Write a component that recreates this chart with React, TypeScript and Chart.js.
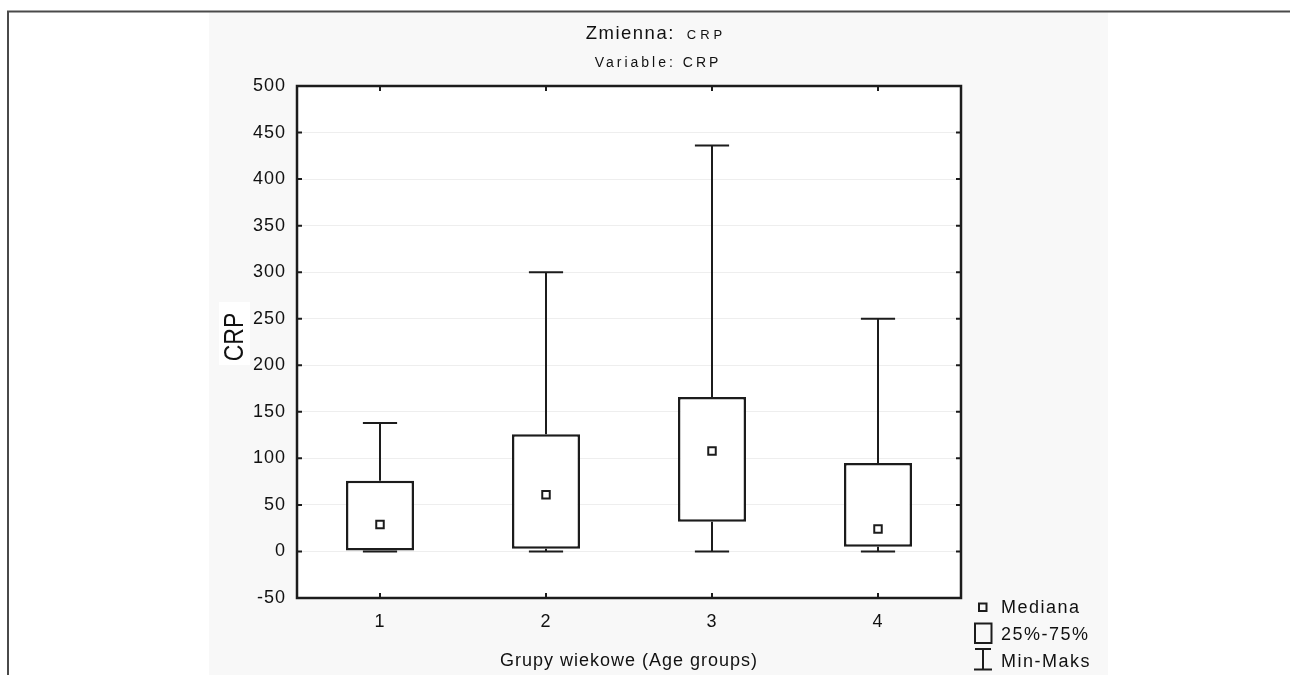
import React, { useEffect, useRef } from 'react';
import { Chart, registerables } from 'chart.js';

Chart.register(...registerables);

// ---- data ----
const categories = ['1', '2', '3', '4'];
const minValues = [0, 0, 0, 0];
const q1Values = [1, 3, 32, 5];
const medianValues = [29, 61, 108, 24];
const q3Values = [76, 126, 166, 95];
const maxValues = [138, 300, 436, 250];
const yMin = -50;
const yMax = 500;
const yStep = 50;

// ---- texts ----
const titleMain = 'Zmienna:';
const titleVar = 'CRP';
const subtitle = 'Variable: CRP';
const xTitle = 'Grupy wiekowe (Age groups)';
const yTitle = 'CRP';
const legendLabels = ['Mediana', '25%-75%', 'Min-Maks'];

const FONT = '"Liberation Sans", Arial, "DejaVu Sans", sans-serif';
const INK = '#1c1c1c';

const decor = {
  id: 'decor',
  beforeDraw(chart: any) {
    const { ctx, chartArea: a, width, height } = chart;
    ctx.save();
    ctx.fillStyle = '#ffffff';
    ctx.fillRect(0, 0, width, height);
    // grey panel
    ctx.fillStyle = '#f8f8f8';
    ctx.fillRect(209, 12, 899, height - 12);
    // plot area
    ctx.fillStyle = '#ffffff';
    ctx.fillRect(a.left, a.top, a.right - a.left, a.bottom - a.top);
    // outer frame
    ctx.strokeStyle = '#4a4a4a';
    ctx.lineWidth = 2;
    ctx.beginPath();
    ctx.moveTo(8, height);
    ctx.lineTo(8, 11.5);
    ctx.lineTo(width, 11.5);
    ctx.stroke();
    // y title
    ctx.fillStyle = '#ffffff';
    ctx.fillRect(a.left - 78, 302, 31, 63);
    ctx.translate(a.left - 54, 337);
    ctx.rotate(-Math.PI / 2);
    ctx.scale(0.82, 1);
    ctx.fillStyle = '#111';
    ctx.font = `28px ${FONT}`;
    ctx.textAlign = 'center';
    ctx.textBaseline = 'alphabetic';
    ctx.fillText(yTitle, 0, 0);
    ctx.restore();
    (ctx as any).letterSpacing = '1px';
  },
  beforeDatasetsDraw(chart: any) {
    const { ctx } = chart;
    const x = chart.scales.x;
    const y = chart.scales.y;
    const capHalf = ((x.right - x.left) / categories.length) * 0.103;
    ctx.save();
    ctx.strokeStyle = INK;
    ctx.lineWidth = 2;
    categories.forEach((_, i) => {
      const cx = x.getPixelForValue(i);
      const yMinP = y.getPixelForValue(minValues[i]);
      const yQ1 = y.getPixelForValue(q1Values[i]);
      const yQ3 = y.getPixelForValue(q3Values[i]);
      const yMaxP = y.getPixelForValue(maxValues[i]);
      ctx.beginPath();
      ctx.moveTo(cx, yMinP);
      ctx.lineTo(cx, yQ1);
      ctx.moveTo(cx, yQ3);
      ctx.lineTo(cx, yMaxP);
      ctx.moveTo(cx - capHalf, yMinP);
      ctx.lineTo(cx + capHalf, yMinP);
      ctx.moveTo(cx - capHalf, yMaxP);
      ctx.lineTo(cx + capHalf, yMaxP);
      ctx.stroke();
    });
    ctx.restore();
  },
  afterDraw(chart: any) {
    const { ctx, chartArea: a } = chart;
    const x = chart.scales.x;
    const y = chart.scales.y;
    ctx.save();
    // frame
    ctx.strokeStyle = INK;
    ctx.lineWidth = 2.5;
    ctx.strokeRect(a.left, a.top, a.right - a.left, a.bottom - a.top);
    // inward ticks
    ctx.lineWidth = 2;
    ctx.beginPath();
    y.ticks.forEach((t: any) => {
      const py = y.getPixelForValue(t.value);
      ctx.moveTo(a.left, py);
      ctx.lineTo(a.left + 5, py);
      ctx.moveTo(a.right, py);
      ctx.lineTo(a.right - 5, py);
    });
    categories.forEach((_, i) => {
      const px = x.getPixelForValue(i);
      ctx.moveTo(px, a.bottom);
      ctx.lineTo(px, a.bottom - 5);
      ctx.moveTo(px, a.top);
      ctx.lineTo(px, a.top + 5);
    });
    ctx.stroke();

    ctx.fillStyle = '#111';
    ctx.textBaseline = 'alphabetic';
    const panelCx = 656;
    // title line 1
    ctx.textAlign = 'left';
    ctx.font = `18.5px ${FONT}`;
    (ctx as any).letterSpacing = '1.5px';
    const w1 = ctx.measureText(titleMain).width;
    ctx.font = `13px ${FONT}`;
    (ctx as any).letterSpacing = '4px';
    const w2 = ctx.measureText(titleVar).width;
    const gap = 12;
    const start = panelCx - (w1 + gap + w2) / 2;
    ctx.font = `18.5px ${FONT}`;
    (ctx as any).letterSpacing = '1.5px';
    ctx.fillText(titleMain, start, 39);
    ctx.font = `13px ${FONT}`;
    (ctx as any).letterSpacing = '4px';
    ctx.fillText(titleVar, start + w1 + gap, 39);
    // subtitle
    ctx.font = `14px ${FONT}`;
    (ctx as any).letterSpacing = '3px';
    ctx.textAlign = 'center';
    ctx.fillText(subtitle, panelCx + 2, 67);
    // x title
    ctx.font = `18px ${FONT}`;
    (ctx as any).letterSpacing = '1px';
    ctx.fillText(xTitle, (a.left + a.right) / 2, 666);

    // legend
    const lx = a.right + 13; // icon left
    ctx.textAlign = 'left';
    ctx.font = `18px ${FONT}`;
    (ctx as any).letterSpacing = '1.5px';
    const tx = a.right + 40;
    ctx.fillText(legendLabels[0], tx, 613);
    ctx.fillText(legendLabels[1], tx, 640);
    ctx.fillText(legendLabels[2], tx, 667);
    ctx.strokeStyle = INK;
    ctx.lineWidth = 2;
    // median icon
    ctx.strokeRect(lx + 5, 603.5, 7.5, 7.5);
    // box icon
    ctx.strokeRect(lx + 1, 623.5, 16.5, 19.5);
    // whisker icon
    ctx.beginPath();
    ctx.moveTo(lx + 9, 649);
    ctx.lineTo(lx + 9, 669);
    ctx.moveTo(lx + 1, 649);
    ctx.lineTo(lx + 17, 649);
    ctx.moveTo(lx, 669.5);
    ctx.lineTo(lx + 18, 669.5);
    ctx.stroke();
    ctx.restore();
  },
};

export default function App() {
  const canvasRef = useRef<HTMLCanvasElement | null>(null);

  useEffect(() => {
    if (!canvasRef.current) return;
    const chart = new Chart(canvasRef.current, {
      type: 'bar',
      data: {
        labels: categories,
        datasets: [
          {
            type: 'line',
            label: 'Mediana',
            data: medianValues,
            showLine: false,
            pointStyle: 'rect',
            pointRadius: 5.3,
            pointHoverRadius: 5.3,
            pointBorderWidth: 2,
            pointBackgroundColor: '#ffffff',
            pointBorderColor: INK,
            order: 0,
          } as any,
          {
            type: 'bar',
            label: '25%-75%',
            data: q1Values.map((v, i) => [v, q3Values[i]]),
            backgroundColor: '#ffffff',
            borderColor: INK,
            borderWidth: 2.5,
            borderSkipped: false,
            barPercentage: 0.41,
            categoryPercentage: 1,
            order: 1,
          } as any,
        ],
      },
      options: {
        responsive: false,
        animation: false,
        events: [],
        layout: { padding: { left: 210, right: 329, top: 86, bottom: 0 } },
        plugins: {
          legend: { display: false },
          title: { display: false },
          tooltip: { enabled: false },
        },
        scales: {
          x: {
            type: 'category',
            offset: true,
            grid: { display: false, drawTicks: false },
            border: { display: false },
            ticks: {
              color: '#111',
              padding: 13,
              font: { family: FONT, size: 18 },
              maxRotation: 0,
            },
            afterFit: (s: any) => {
              s.height = 77;
            },
          },
          y: {
            min: yMin,
            max: yMax,
            grid: { color: '#eeeeee', lineWidth: 1, drawTicks: false },
            border: { display: false },
            ticks: {
              stepSize: yStep,
              color: '#111',
              padding: 11,
              font: { family: FONT, size: 18 },
            },
            afterFit: (s: any) => {
              s.width = 87;
            },
          },
        },
      },
      plugins: [decor],
    });
    return () => chart.destroy();
  }, []);

  return (
    <div style={{ position: 'absolute', left: 0, top: 0, width: 1290, height: 675, background: '#fff' }}>
      <canvas ref={canvasRef} width={1290} height={675} style={{ display: 'block', width: 1290, height: 675 }} />
    </div>
  );
}
